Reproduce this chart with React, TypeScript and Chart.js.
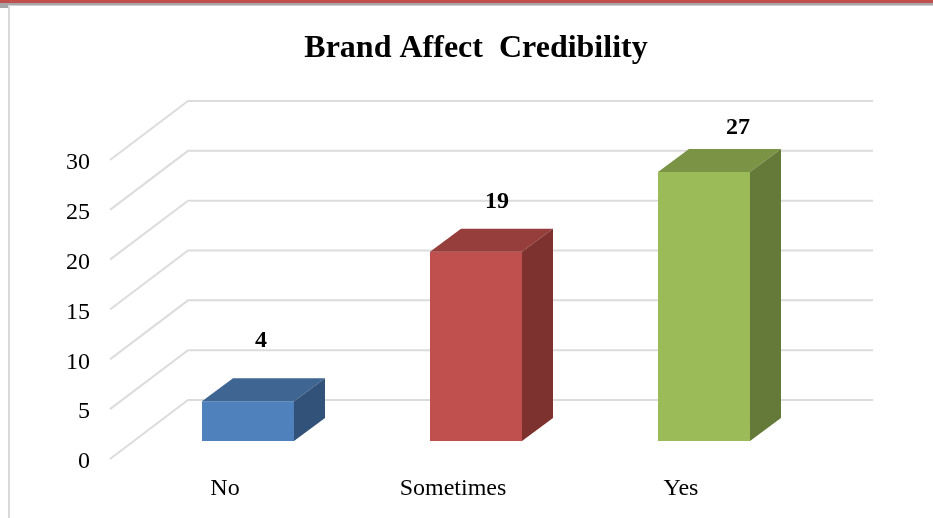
import React, { useEffect, useRef } from "react";
import { Chart, registerables } from "chart.js";

Chart.register(...registerables);

const categories = ["No", "Sometimes", "Yes"];
const counts = [4, 19, 27];
const frontColors = ["#4f81bd", "#c0504d", "#9bbb59"];
const topColors = ["#3f6592", "#963e3b", "#7a9345"];
const sideColors = ["#335279", "#7d322f", "#657a39"];
const labelShiftX = [13, 21, 34];
const labelShiftY = [-60, -50, -44];

const FONT = "'Liberation Serif'";
const GRID = "#dcdcdc";
// Projection of the box depth and of the floor/wall depth, in pixels.
const BOX_DX = 31;
const BOX_DY = -23;
const WALL_X0 = 110;
const WALL_X1 = 188;
const WALL_X2 = 873;
const FRONT_DROP = 18;
const BACK_RISE = 41;

const quad = (ctx: CanvasRenderingContext2D, pts: number[][], color: string) => {
  ctx.fillStyle = color;
  ctx.beginPath();
  pts.forEach(([x, y], i) => (i ? ctx.lineTo(x, y) : ctx.moveTo(x, y)));
  ctx.closePath();
  ctx.fill();
};

// Wall grid with its receding floor lines, drawn from the value scale.
const wallGrid = {
  id: "wallGrid",
  beforeDatasetsDraw(chart: any) {
    const { ctx, scales } = chart;
    ctx.save();
    ctx.strokeStyle = GRID;
    ctx.lineWidth = 2;
    scales.y.ticks.forEach((t: any) => {
      const py = scales.y.getPixelForValue(t.value);
      ctx.beginPath();
      ctx.moveTo(WALL_X0, py + FRONT_DROP);
      ctx.lineTo(WALL_X1, py - BACK_RISE);
      ctx.lineTo(WALL_X2, py - BACK_RISE);
      ctx.stroke();
    });
    ctx.restore();
  },
};

// Top and side faces of each box, plus the bold value above it.
const boxFaces = {
  id: "boxFaces",
  afterDatasetsDraw(chart: any) {
    const { ctx } = chart;
    ctx.save();
    chart.getDatasetMeta(0).data.forEach((bar: any, i: number) => {
      const l = bar.x - bar.width / 2;
      const r = bar.x + bar.width / 2;
      const t = bar.y;
      const b = bar.base;
      quad(ctx, [[l, t], [r, t], [r + BOX_DX, t + BOX_DY], [l + BOX_DX, t + BOX_DY]], topColors[i]);
      quad(ctx, [[r, t], [r + BOX_DX, t + BOX_DY], [r + BOX_DX, b + BOX_DY], [r, b]], sideColors[i]);
      ctx.fillStyle = "#000";
      ctx.font = `bold 24px ${FONT}`;
      ctx.textAlign = "center";
      ctx.textBaseline = "middle";
      ctx.fillText(String(counts[i]), bar.x + labelShiftX[i], t + labelShiftY[i]);
    });
    ctx.restore();
  },
};

export default function App() {
  const ref = useRef<HTMLCanvasElement>(null);

  useEffect(() => {
    const chart = new Chart(ref.current!, {
      type: "bar",
      data: {
        labels: categories,
        datasets: [
          {
            data: counts,
            backgroundColor: frontColors,
            borderWidth: 0,
            barPercentage: 0.4035,
            categoryPercentage: 1,
          },
        ],
      },
      plugins: [wallGrid, boxFaces],
      options: {
        animation: false,
        responsive: false,
        layout: { padding: { top: 31, right: 115, bottom: 0, left: 0 } },
        plugins: {
          legend: { display: false },
          tooltip: { enabled: false },
          title: {
            display: true,
            text: "Brand Affect  Credibility",
            color: "#000",
            align: "center",
            font: { family: FONT, size: 32, weight: "bold", lineHeight: 1.125 },
            padding: { top: 0, bottom: 75 },
            fullSize: false,
          },
        },
        scales: {
          x: {
            grid: { display: false, drawTicks: false },
            border: { display: false },
            afterFit: (s: any) => {
              s.height = 77;
            },
            ticks: {
              color: "#000",
              font: { family: FONT, size: 24 },
              padding: 33,
              labelOffset: -23,
              maxRotation: 0,
              autoSkip: false,
            },
          },
          y: {
            min: 0,
            max: 30,
            grid: { display: false, drawTicks: false },
            border: { display: false },
            afterFit: (s: any) => {
              s.width = 134;
            },
            ticks: {
              stepSize: 5,
              color: "#000",
              font: { family: FONT, size: 24 },
              padding: 44,
              labelOffset: 21,
            },
          },
        },
      },
    } as any);
    return () => chart.destroy();
  }, []);

  return (
    <div style={{ position: "fixed", left: 0, top: 0, width: 933, height: 518, background: "#fff", overflow: "hidden" }}>
      <div style={{ position: "absolute", left: 0, top: 0, width: 933, height: 3, background: "#c0504d" }} />
      <div style={{ position: "absolute", left: 0, top: 3, width: 933, height: 2, background: "#a6a6a6" }} />
      <div style={{ position: "absolute", left: 0, top: 5, width: 933, height: 1, background: "#d0d0d0" }} />
      <div style={{ position: "absolute", left: 0, top: 5, width: 8, height: 3, background: "#a6a6a6" }} />
      <div style={{ position: "absolute", left: 8, top: 5, width: 2, height: 513, background: "#d9d9d9" }} />
      <canvas ref={ref} width={933} height={518} style={{ position: "absolute", left: 0, top: 0, display: "block" }} />
    </div>
  );
}
